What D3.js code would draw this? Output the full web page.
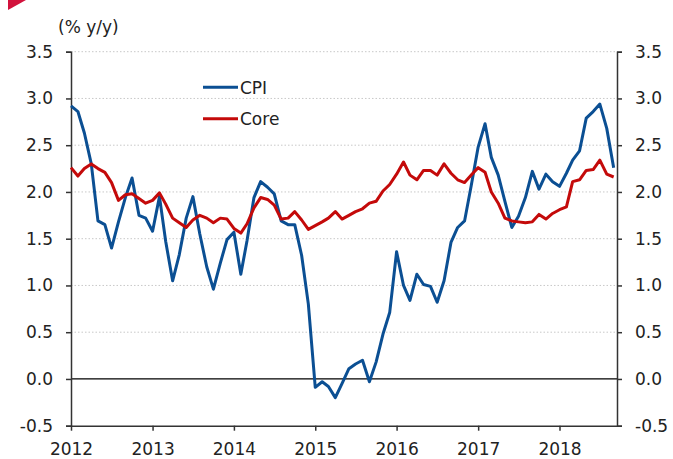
<!DOCTYPE html>
<html>
<head>
<meta charset="utf-8">
<script src="https://cdn.jsdelivr.net/npm/d3@7"></script>
<style>
  body { margin: 0; background: #fff; }
  svg text { font-family: "DejaVu Sans", sans-serif; fill: #222; }
</style>
</head>
<body>
<div id="chart"></div>
<script>
// monthly series, Jan 2012 - Sep 2018 (% y/y)
let startYear = 2012
let cpi = [2.92, 2.86, 2.63, 2.30, 1.69, 1.65, 1.40, 1.68, 1.94, 2.15, 1.75, 1.72,
           1.58, 1.95, 1.47, 1.05, 1.33, 1.72, 1.95, 1.55, 1.20, 0.96, 1.24, 1.49,
           1.57, 1.12, 1.48, 1.94, 2.11, 2.05, 1.98, 1.69, 1.65, 1.65, 1.32, 0.80,
           -0.09, -0.03, -0.08, -0.20, -0.05, 0.11, 0.16, 0.20, -0.03, 0.18, 0.48, 0.71,
           1.36, 1.00, 0.84, 1.12, 1.01, 0.99, 0.82, 1.05, 1.46, 1.62, 1.69, 2.07,
           2.48, 2.73, 2.37, 2.18, 1.90, 1.62, 1.74, 1.94, 2.22, 2.03, 2.19, 2.11,
           2.06, 2.20, 2.34, 2.44, 2.79, 2.86, 2.94, 2.68, 2.26]
let core = [2.26, 2.17, 2.25, 2.30, 2.25, 2.21, 2.10, 1.91, 1.97, 1.98, 1.93, 1.88,
            1.91, 1.99, 1.87, 1.72, 1.67, 1.62, 1.70, 1.75, 1.72, 1.67, 1.72, 1.71,
            1.61, 1.56, 1.66, 1.83, 1.94, 1.92, 1.86, 1.71, 1.72, 1.79, 1.70, 1.60,
            1.64, 1.68, 1.72, 1.79, 1.71, 1.75, 1.79, 1.82, 1.88, 1.90, 2.01, 2.08,
            2.19, 2.32, 2.18, 2.13, 2.23, 2.23, 2.18, 2.30, 2.20, 2.13, 2.10, 2.18,
            2.26, 2.21, 2.00, 1.88, 1.72, 1.69, 1.68, 1.67, 1.68, 1.76, 1.71, 1.77,
            1.81, 1.84, 2.11, 2.13, 2.23, 2.24, 2.34, 2.19, 2.16]
let yearTicks = [2012, 2013, 2014, 2015, 2016, 2017, 2018]
let valueTicks = [-0.5, 0, 0.5, 1.0, 1.5, 2.0, 2.5, 3.0, 3.5]
let seriesNames = ["CPI", "Core"]
let seriesColors = ["#0b4f93", "#c40a0a"]

let width = 673,
    height = 459
let plotLeft = 71, plotRight = 617, plotTop = 51.7, plotBottom = 425.7

let svg = d3.select("#chart")
  .append("svg")
  .attr("width", width)
  .attr("height", height)

// red corner mark
svg.append("path")
  .attr("d", "M8,0 L26,0 L8,10 Z")
  .attr("fill", "#d2123c")

let dates = cpi.map((d, i) => new Date(startYear, i, 1))

let x = d3.scaleTime()
  .domain([new Date(startYear, 0, 1), new Date(2018, 8, 16)])
  .range([plotLeft, plotRight])

let y = d3.scaleLinear()
  .domain([-0.5, 3.5])
  .range([plotBottom, plotTop])

// dotted gridlines
svg.append("g")
  .selectAll("line")
  .data(valueTicks.filter(v => v !== 0 && v !== -0.5))
  .enter()
  .append("line")
  .attr("x1", plotLeft)
  .attr("x2", plotRight)
  .attr("y1", d => y(d))
  .attr("y2", d => y(d))
  .attr("stroke", "#c8c8c8")
  .attr("stroke-width", 1)
  .attr("stroke-dasharray", "1.5,2")

// zero line
svg.append("line")
  .attr("x1", plotLeft).attr("x2", plotRight)
  .attr("y1", y(0)).attr("y2", y(0))
  .attr("stroke", "#000")
  .attr("stroke-width", 1.2)

// plain hyphen instead of the unicode minus
let fmt = d => d3.format(".1f")(d).replace("\u2212", "-")

let yLeft = d3.axisLeft(y).tickValues(valueTicks).tickSize(5).tickPadding(13).tickFormat(fmt)
let yRight = d3.axisRight(y).tickValues(valueTicks).tickSize(5).tickPadding(13).tickFormat(fmt)
let xAxis = d3.axisBottom(x)
  .tickValues(yearTicks.map(yr => new Date(yr, 0, 1)))
  .tickSize(5)
  .tickPadding(12)
  .tickFormat(d3.timeFormat("%Y"))

function styleAxis(g) {
  g.select(".domain").attr("stroke", "#333").attr("stroke-width", 1.5)
  g.selectAll(".tick line").attr("stroke", "#333").attr("stroke-width", 1.5)
  g.selectAll("text").style("font-size", "17px").attr("fill", "#222")
}

svg.append("g")
  .attr("transform", "translate(" + plotLeft + ",0)")
  .call(yLeft)
  .call(styleAxis)

svg.append("g")
  .attr("transform", "translate(" + plotRight + ",0)")
  .call(yRight)
  .call(styleAxis)

svg.append("g")
  .attr("transform", "translate(0," + plotBottom + ")")
  .call(xAxis)
  .call(styleAxis)
  .call(g => g.select(".domain").attr("d", "M" + plotLeft + ",0.5H" + plotRight))

// unit label
svg.append("text")
  .attr("x", 58)
  .attr("y", 33)
  .text("(% y/y)")
  .style("font-size", "17px")
  .attr("fill", "#444")

// series lines
let line = d3.line()
  .x((d, i) => x(dates[i]))
  .y(d => y(d))

;[cpi, core].forEach((s, k) => {
  svg.append("path")
    .datum(s)
    .attr("d", line)
    .attr("fill", "none")
    .attr("stroke", seriesColors[k])
    .attr("stroke-width", 3)
    .attr("stroke-linejoin", "round")
})

// legend
let legend = svg.append("g")
seriesNames.forEach((name, k) => {
  let ly = 87.3 + k * 31.4
  legend.append("line")
    .attr("x1", 203).attr("x2", 238)
    .attr("y1", ly).attr("y2", ly)
    .attr("stroke", seriesColors[k])
    .attr("stroke-width", 3)
  legend.append("text")
    .attr("x", 240)
    .attr("y", ly + 6.5)
    .text(name)
    .style("font-size", "17px")
})
</script>
</body>
</html>
